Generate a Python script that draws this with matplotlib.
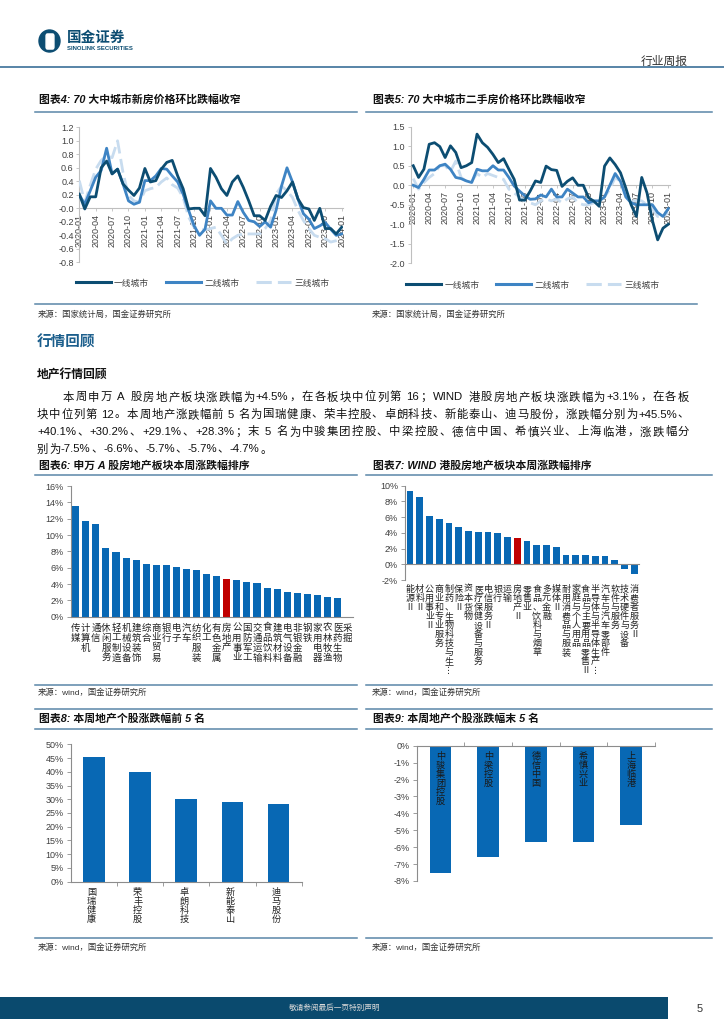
import numpy as np
import matplotlib
matplotlib.use("Agg")
import matplotlib.pyplot as plt
import matplotlib.transforms as mtrans
from matplotlib.lines import Line2D
from matplotlib.patches import Rectangle, Ellipse, FancyBboxPatch

# ---------------- data ----------------
months = [f"{y}-{m:02d}" for y in range(2020, 2025) for m in range(1, 13)][:49]

# 70 city new house price mom (%)
new_t1 = [0.21, -0.01, 0.17, 0.17, 0.60, 0.70, 0.51, 0.58, 0.36, 0.27, 0.19, 0.30, 0.59, 0.39, 0.41, 0.58,
          0.68, 0.71, 0.48, 0.29, -0.01, 0.00, 0.00, -0.11, 0.59, 0.46, 0.29, 0.19, 0.39, 0.48, 0.31, 0.11,
          -0.11, -0.11, -0.18, 0.03, 0.19, 0.16, 0.26, 0.39, 0.14, 0.01, -0.01, -0.18, 0.00, -0.30, -0.30,
          -0.38, -0.28]
new_t2 = [0.20, 0.06, 0.26, 0.46, 0.56, 0.89, 0.51, 0.58, 0.36, 0.11, 0.06, 0.09, 0.41, 0.41, 0.48, 0.59,
          0.58, 0.48, 0.39, 0.21, -0.03, -0.26, -0.40, -0.31, 0.11, 0.00, 0.00, -0.10, -0.10, 0.10, -0.06,
          -0.18, -0.20, -0.27, -0.20, -0.28, -0.03, 0.33, 0.60, 0.39, 0.14, -0.08, -0.16, -0.30, -0.26,
          -0.21, -0.31, -0.40, -0.38]
new_t3 = [0.41, 0.09, 0.34, 0.58, 0.71, 0.78, 0.75, 1.00, 0.53, 0.19, 0.11, 0.09, 0.26, 0.29, 0.31, 0.39,
          0.45, 0.35, 0.30, 0.16, -0.13, -0.28, -0.30, -0.32, -0.30, -0.28, -0.40, -0.53, -0.45, -0.40,
          -0.38, -0.38, -0.38, -0.38, -0.30, -0.18, 0.21, 0.33, 0.26, 0.16, -0.03, -0.18, -0.30, -0.40,
          -0.43, -0.45, -0.50, -0.48, -0.45]

# 70 city second-hand house price mom (%)
old_t1 = [0.50, 0.20, 0.41, 1.05, 1.09, 0.99, 0.71, 1.01, 0.84, 0.45, 0.50, 0.58, 1.31, 1.09, 0.97, 0.79,
          0.58, 0.68, 0.41, 0.15, -0.38, -0.38, -0.15, 0.11, 0.07, 0.49, 0.40, 0.38, -0.03, 0.10, 0.19,
          0.00, 0.00, -0.32, -0.41, -0.54, 0.49, 0.70, 0.53, 0.32, -0.07, -0.50, -0.80, 0.20, -0.20,
          -0.90, -1.40, -1.10, -1.00]
old_t2 = [0.00, -0.06, 0.15, 0.39, 0.39, 0.50, 0.54, 0.41, 0.20, 0.17, 0.11, 0.07, 0.41, 0.37, 0.37, 0.50,
          0.39, 0.39, 0.20, -0.02, -0.15, -0.27, -0.36, -0.35, -0.25, -0.30, -0.10, -0.30, -0.30, -0.10,
          -0.20, -0.30, -0.30, -0.45, -0.40, -0.40, -0.30, 0.00, 0.30, 0.10, -0.30, -0.45, -0.50, -0.50,
          -0.50, -0.50, -0.70, -0.80, -0.60]
old_t3 = [0.17, -0.10, 0.07, 0.20, 0.30, 0.50, 0.50, 0.35, 0.62, 0.20, 0.10, 0.10, 0.30, 0.20, 0.30, 0.25,
          0.20, 0.15, -0.10, -0.20, -0.30, -0.40, -0.45, -0.50, -0.40, -0.35, -0.40, -0.35, -0.45, -0.35,
          -0.30, -0.45, -0.50, -0.50, -0.45, -0.40, -0.30, -0.10, 0.20, 0.10, -0.20, -0.40, -0.40, -0.40,
          -0.50, -0.60, -0.80, -0.80, -0.70]
tier_names = ["一线城市", "二线城市", "三线城市"]

sw_names = ["传媒", "计算机", "通信", "休闲服务", "轻工制造", "机械设备", "建筑装饰", "综合", "商业贸易",
            "银行", "电子", "汽车", "纺织服装", "化工", "有色金属", "房地产", "公用事业", "国防军工",
            "交通运输", "食品饮料", "建筑材料", "电气设备", "非银金融", "钢铁", "家用电器", "农林牧渔",
            "医药生物", "采掘"]
sw_chg = [13.5, 11.7, 11.3, 8.4, 7.9, 7.2, 7.0, 6.5, 6.3, 6.3, 6.1, 5.9, 5.7, 5.2, 5.0, 4.6, 4.5, 4.3,
          4.1, 3.5, 3.4, 3.0, 2.9, 2.8, 2.6, 2.4, 2.3, 0.0]

hk_names = ["能源Ⅱ", "材料Ⅱ", "公用事业Ⅱ", "商业和专业服务", "制药、生物科技与生⋮", "保险Ⅱ", "资本货物",
            "医疗保健设备与服务", "电信服务Ⅱ", "银行", "运输", "房地产Ⅱ", "零售业", "食品、饮料与烟草",
            "多元金融", "媒体Ⅱ", "耐用消费品与服装", "家庭与个人用品", "食品与主要用品零售Ⅱ",
            "半导体与半导体生产⋮", "汽车与汽车零部件", "软件与服务", "技术硬件与设备", "消费者服务Ⅱ"]
hk_chg = [9.3, 8.5, 6.1, 5.7, 5.3, 4.7, 4.2, 4.1, 4.1, 4.0, 3.5, 3.3, 2.9, 2.4, 2.4, 2.2, 1.2, 1.2, 1.2,
          1.1, 1.0, 0.5, -0.6, -1.3]

top_names = ["国瑞健康", "荣丰控股", "卓朗科技", "新能泰山", "迪马股份"]
top_chg = [45.5, 40.1, 30.2, 29.1, 28.3]
bot_names = ["中骏集团控股", "中梁控股", "德信中国", "希慎兴业", "上海临港"]
bot_chg = [-7.5, -6.6, -5.7, -5.7, -4.7]

body_lines = [
    "本周申万 A 股房地产板块涨跌幅为+4.5%，在各板块中位列第 16；WIND 港股房地产板块涨跌幅为+3.1%，在各板",
    "块中位列第 12。本周地产涨跌幅前 5 名为国瑞健康、荣丰控股、卓朗科技、新能泰山、迪马股份，涨跌幅分别为+45.5%、",
    "+40.1%、+30.2%、+29.1%、+28.3%；末 5 名为中骏集团控股、中梁控股、德信中国、希慎兴业、上海临港，涨跌幅分",
    "别为-7.5%、-6.6%、-5.7%、-5.7%、-4.7%。",
]

# ---------------- style ----------------
plt.rcParams["font.family"] = ["Liberation Sans", "Noto Sans CJK SC", "DejaVu Sans"]
CJK = ["Noto Sans CJK SC", "DejaVu Sans"]
NAVY = "#0C4D72"
MID = "#3E84C4"
LIGHT = "#C8DCEF"
BAR = "#0868B4"
RED = "#C00000"
RULE = "#5A86A8"
TXT = "#404040"
AX = "#8C8C8C"

W, H = 724, 1024
fig = plt.figure(figsize=(W / 100, H / 100), dpi=100)


def box(l, t, r, b):
    return fig.add_axes([l / W, 1 - b / H, (r - l) / W, (b - t) / H])


def hline(x0, x1, y, color=RULE, lw=1.1):
    fig.add_artist(Line2D([x0 / W, x1 / W], [1 - y / H] * 2, transform=fig.transFigure, color=color, lw=lw))


def ftext(x, y, s, **kw):
    return fig.text(x / W, 1 - y / H, s, **kw)


def vlabel(ax, x, ytop, s, size, step, color="#222222"):
    # stacked characters, one per line
    tr = mtrans.blended_transform_factory(ax.transData, fig.transFigure)
    for i, ch in enumerate(s):
        ax.text(x, 1 - (ytop + step * (i + 0.5)) / H, ch, transform=tr, ha="center", va="center",
                fontsize=size, family=CJK, color=color, clip_on=False)


def justified(s, x0, x1, y, size, justify=True):
    r = fig.canvas.get_renderer()
    toks = []
    run = ""
    for ch in s:
        if ch == " ":
            if run:
                toks.append(run)
                run = ""
            toks.append(" ")
        elif ord(ch) < 128:
            run += ch
        else:
            if run:
                toks.append(run)
                run = ""
            toks.append(ch)
    if run:
        toks.append(run)
    objs, widths = [], []
    for tk in toks:
        if tk == " ":
            objs.append(None)
            widths.append(size * 1.389 * 0.28)
            continue
        t = ftext(0, y, tk, fontsize=size, va="center", ha="left", color="#111111")
        objs.append(t)
        widths.append(t.get_window_extent(r).width)
    gap = (x1 - x0 - sum(widths)) / (len(toks) - 1) if justify else 0.6
    x = x0
    for o, w in zip(objs, widths):
        if o is not None:
            o.set_position((x / W, 1 - y / H))
        x += w + gap


# ---------------- header ----------------
fig.add_artist(Ellipse((49.5 / W, 1 - 41 / H), 21 / W, 22 / H, transform=fig.transFigure, color=NAVY))
fig.add_artist(FancyBboxPatch((47.5 / W, 1 - 47 / H), 5 / W, 11 / H, boxstyle="round,pad=0.002",
                              transform=fig.transFigure, color="white"))
ftext(67, 37, "国金证券", fontsize=10.5, weight="bold", color=NAVY, family=CJK, va="center")
ftext(67, 48.5, "SINOLINK SECURITIES", fontsize=4.3, weight="bold", color=NAVY, va="center")
ftext(688, 61, "行业周报", fontsize=8.5, color="#333333", family=CJK, ha="right", va="center")
hline(0, W, 67, color="#4A7BA0", lw=1.3)

# ---------------- titles & rules ----------------
LX0, LX1, RX0, RX1 = 35, 357, 366, 712
for x, y, s in [(39, 99, "图表4: 70 大中城市新房价格环比跌幅收窄"),
                (373, 99, "图表5: 70 大中城市二手房价格环比跌幅收窄"),
                (39, 466, "图表6: 申万 A 股房地产板块本周涨跌幅排序"),
                (373, 466, "图表7: WIND 港股房地产板块本周涨跌幅排序"),
                (39, 719, "图表8: 本周地产个股涨跌幅前 5 名"),
                (373, 719, "图表9: 本周地产个股涨跌幅末 5 名")]:
    ftext(x, y, s, fontsize=7.8, weight="bold", style="italic", color="#111111", va="center")

for y in [111.5, 475, 729, 709]:
    hline(LX0, LX1, y)
    hline(RX0, RX1, y)
hline(LX0, 697, 303.5)
for y in [685, 938]:
    hline(LX0, LX1, y)
    hline(RX0, RX1, y)

for x, y, s in [(38, 315, "来源：国家统计局，国金证券研究所"), (372, 315, "来源：国家统计局，国金证券研究所"),
                (38, 693, "来源：wind，国金证券研究所"), (372, 693, "来源：wind，国金证券研究所"),
                (38, 948, "来源：wind，国金证券研究所"), (372, 948, "来源：wind，国金证券研究所")]:
    ftext(x, y, s, fontsize=6, color="#333333", va="center")

# ---------------- text block ----------------
ftext(37, 342, "行情回顾", fontsize=10.5, weight="bold", color="#1B5E8C", family=CJK, va="center")
ftext(37, 375, "地产行情回顾", fontsize=8.5, weight="bold", color="#111111", family=CJK, va="center")
justified(body_lines[0], 63, 689, 397, 8.2)
justified(body_lines[1], 37, 689, 414.5, 8.2)
justified(body_lines[2], 37, 689, 432, 8.2)
justified(body_lines[3], 37, 689, 449.5, 8.2, justify=False)


# ---------------- line charts ----------------
def line_chart(ax, s1, s2, s3, ylim, yticks, xlim):
    x = np.arange(len(s1))
    ax.plot(x, s1, color=NAVY, lw=2.0, solid_joinstyle="round", zorder=5)
    ax.plot(x, s2, color=MID, lw=2.0, solid_joinstyle="round", zorder=4)
    ax.plot(x, s3, color=LIGHT, lw=2.0, ls=(0, (5, 2)), zorder=3)
    ax.set_xlim(*xlim)
    ax.set_ylim(*ylim)
    for k in ["top", "right"]:
        ax.spines[k].set_visible(False)
    ax.spines["left"].set_color("#BFBFBF")
    ax.spines["bottom"].set_color("#BFBFBF")
    ax.spines["bottom"].set_position(("data", 0))
    ax.set_yticks(yticks)
    ax.set_yticklabels([f"{v:.1f}" for v in yticks])
    ax.set_xticks(range(0, 49, 3))
    ax.set_xticklabels(months[::3], rotation=90)
    ax.tick_params(axis="both", labelsize=6.5, colors="#BFBFBF", labelcolor=TXT, length=2.5, width=0.6, pad=1.5)
    ax.patch.set_alpha(0)


ax4 = box(79.3, 127.3, 343.3, 262.3)
line_chart(ax4, new_t1, new_t2, new_t3, (-0.8, 1.2), np.round(np.arange(-0.8, 1.21, 0.2), 1), (0, 48.3))
ax5 = box(410.6, 126.7, 669.9, 263.3)
line_chart(ax5, old_t1, old_t2, old_t3, (-2.0, 1.5), np.round(np.arange(-2.0, 1.51, 0.5), 1), (-0.5, 48.3))

for ax, cx, cy in [(ax4, 202.5, 283), (ax5, 533, 285)]:
    handles = [Line2D([], [], color=NAVY, lw=2.2), Line2D([], [], color=MID, lw=2.2),
               Line2D([], [], color=LIGHT, lw=2.2, ls=(0, (5, 2)))]
    leg = ax.legend(handles, tier_names, loc="center", bbox_to_anchor=(cx / W, 1 - cy / H),
                    bbox_transform=fig.transFigure, ncol=3, frameon=False, fontsize=6.3,
                    handlelength=4.0, columnspacing=1.9, handletextpad=0.4)
    for t in leg.get_texts():
        t.set_color(TXT)


# ---------------- bar charts ----------------
def bar_style(ax, yticks):
    for k in ["top", "right"]:
        ax.spines[k].set_visible(False)
    for k in ["left", "bottom"]:
        ax.spines[k].set_color(AX)
        ax.spines[k].set_linewidth(0.8)
    ax.set_yticks(yticks)
    ax.set_yticklabels([f"{v}%" for v in yticks])
    ax.tick_params(axis="y", labelsize=6.5, colors=AX, labelcolor=TXT, length=3, width=0.6, pad=2)
    ax.patch.set_alpha(0)


# chart 6
ax6 = box(70.7, 486, 352.7, 616.7)
ax6.bar(range(len(sw_chg)), sw_chg, width=0.7,
        color=[RED if n == "房地产" else BAR for n in sw_names])
ax6.set_xlim(-0.5, len(sw_chg) - 0.5)
ax6.set_ylim(0, 16)
bar_style(ax6, list(range(0, 17, 2)))
ax6.set_xticks([])
for i, n in enumerate(sw_names):
    vlabel(ax6, i, 623, n, 6.8, 10)

# chart 7
ax7 = box(405.1, 485.7, 639.2, 580)
ax7.bar(range(len(hk_chg)), hk_chg, width=0.68,
        color=[RED if n == "房地产Ⅱ" else BAR for n in hk_names])
ax7.set_xlim(-0.5, len(hk_chg) - 0.5)
ax7.set_ylim(-2, 10)
bar_style(ax7, list(range(-2, 11, 2)))
ax7.spines["bottom"].set_position(("data", 0))
ax7.set_xticks([])
for i, n in enumerate(hk_names):
    vlabel(ax7, i, 585, n, 6.5, 9)

# chart 8
ax8 = box(70.7, 744.3, 301.7, 881.7)
ax8.bar(range(5), top_chg, width=0.47, color=BAR)
ax8.set_xlim(-0.5, 4.5)
ax8.set_ylim(0, 50)
bar_style(ax8, list(range(0, 51, 5)))
ax8.set_xticks([0.5, 1.5, 2.5, 3.5, 4.5])
ax8.set_xticklabels([])
ax8.tick_params(axis="x", colors=AX, length=3, width=0.6)
for i, n in enumerate(top_names):
    vlabel(ax8, i - 0.05, 888, n, 6.6, 9)

# chart 9
ax9 = box(416.7, 745.7, 655, 881)
ax9.bar(range(5), bot_chg, width=0.46, color=BAR)
ax9.set_xlim(-0.5, 4.5)
ax9.set_ylim(-8, 0)
bar_style(ax9, list(range(-8, 1)))
ax9.spines["bottom"].set_visible(False)
ax9.spines["top"].set_visible(True)
ax9.spines["top"].set_color(AX)
ax9.spines["top"].set_linewidth(0.8)
ax9.xaxis.tick_top()
ax9.set_xticks([0.5, 1.5, 2.5, 3.5, 4.5])
ax9.set_xticklabels([])
ax9.tick_params(axis="x", colors=AX, length=3, width=0.6)
for i, n in enumerate(bot_names):
    vlabel(ax9, i, 752, n, 6.6, 9, color="#1A1A1A")

# ---------------- footer ----------------
fig.add_artist(Rectangle((0, 1 - 1019 / H), 668 / W, 22 / H, transform=fig.transFigure,
                         color="#0A4A6E", lw=0))
ftext(335, 1008, "敬请参阅最后一页特别声明", fontsize=5.5, color="#D9D9D9", ha="center", va="center", family=CJK)
ftext(700, 1009, "5", fontsize=8, color="#333333", ha="center", va="center")

fig.savefig("out.png", dpi=100)
